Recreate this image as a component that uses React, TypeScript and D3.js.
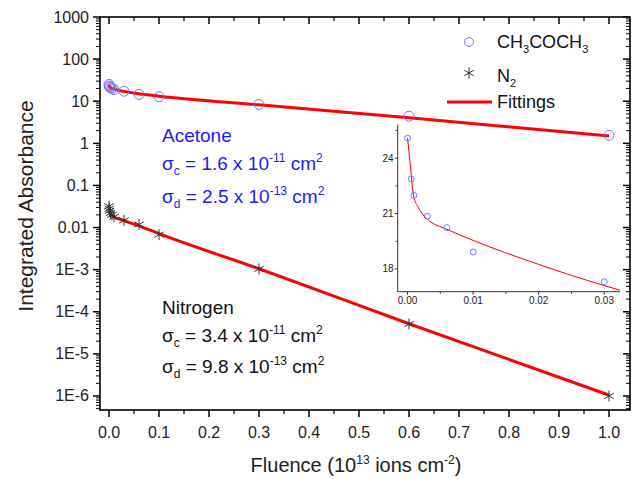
import React, { useEffect } from 'react';
import * as d3 from 'd3';

// measured points (fluence in 1e13 ions cm^-2)
const fluence = [0, 0.0006, 0.001, 0.003, 0.006, 0.01, 0.03, 0.06, 0.1, 0.3, 0.6, 1.0];
const acetone = [25.1, 22.9, 22.0, 20.9, 20.2, 18.9, 17.3, 14.5, 12.8, 8.4, 4.4, 1.55];
const nitrogen = [0.032, 0.028, 0.025, 0.022, 0.02, 0.018, 0.0148, 0.0118, 0.0068, 0.00104, 5.1e-5, 1.0e-6];

// fitted curves
const fitFluence = [0, 0.0005, 0.001, 0.002, 0.003, 0.006, 0.01, 0.02, 0.03, 0.06, 0.1, 0.3, 0.6, 1.0];
const acetoneFit = [25.1, 23.6, 22.2, 21.2, 20.7, 20.2, 19.45, 18.2, 17.1, 15.0, 13.2, 8.2, 4.06, 1.5];
const nitrogenFit = [0.033, 0.029, 0.026, 0.023, 0.021, 0.0195, 0.0178, 0.016, 0.0146, 0.011, 0.0072, 0.00105, 5.2e-5, 1.05e-6];

// inset (zoom on the first acetone points)
const insetFluence = [0, 0.00056, 0.00097, 0.003, 0.006, 0.01, 0.03];
const insetAcetone = [25.08, 22.88, 21.99, 20.86, 20.24, 18.92, 17.31];
const insetFitFluence = [0, 0.0004, 0.0009, 0.0017, 0.0024, 0.003, 0.006, 0.01, 0.02, 0.03, 0.0324];
const insetFit = [25.1, 23.7, 22.0, 21.3, 20.92, 20.7, 20.15, 19.55, 18.25, 17.1, 16.85];

const xTickValues = [0, 0.1, 0.2, 0.3, 0.4, 0.5, 0.6, 0.7, 0.8, 0.9, 1.0];
const xTickLabels = ['0.0', '0.1', '0.2', '0.3', '0.4', '0.5', '0.6', '0.7', '0.8', '0.9', '1.0'];
const yTickValues = [1e-6, 1e-5, 1e-4, 1e-3, 0.01, 0.1, 1, 10, 100, 1000];
const yTickLabels = ['1E-6', '1E-5', '1E-4', '1E-3', '0.01', '0.1', '1', '10', '100', '1000'];
const insetXTicks = [0, 0.01, 0.02, 0.03];
const insetXLabels = ['0.00', '0.01', '0.02', '0.03'];
const insetYTicks = [18, 21, 24];

const font = 'Liberation Sans, Arial, sans-serif';
const blue = '#1c1cf5';
const circleColor = '#7575ff';
const red = '#ff0000';

const Star = ({ cx, cy, r, color }: { cx: number; cy: number; r: number; color: string }) => {
  const c = Math.cos(Math.PI / 6) * r;
  const s = Math.sin(Math.PI / 6) * r;
  return (
    <path
      d={`M${cx},${cy - r}L${cx},${cy + r}M${cx - c},${cy - s}L${cx + c},${cy + s}M${cx - c},${cy + s}L${cx + c},${cy - s}`}
      stroke={color}
      strokeWidth={1}
      fill="none"
    />
  );
};

const Sigma = ({ x, y, sub, value, exp, color }: any) => (
  <text x={x} y={y} fontSize={19} fill={color} fontFamily={font}>
    σ
    <tspan dy={5} fontSize={12}>{sub}</tspan>
    <tspan dy={-5}>{` = ${value} x 10`}</tspan>
    <tspan dy={-8} fontSize={12}>{exp}</tspan>
    <tspan dy={8}>{'  cm'}</tspan>
    <tspan dy={-8} fontSize={12}>2</tspan>
  </text>
);

const App = () => {
  useEffect(() => {
    document.body.style.margin = '0';
  }, []);

  const x = d3.scaleLinear().domain([-0.018, 1.042]).range([100, 630]);
  const y = d3.scaleLog().domain([Math.pow(10, -6.333), 1000]).range([410, 17]);

  const minorY: number[] = [];
  for (let e = -7; e < 3; e++) {
    for (let m = 2; m <= 9; m++) {
      const v = m * Math.pow(10, e);
      if (v > y.domain()[0] && v < 1000) minorY.push(v);
    }
  }
  const minorX = d3.range(0.05, 1.05, 0.1);

  const line = d3
    .line<number>()
    .x((_, i) => x(fitFluence[i]))
    .curve(d3.curveMonotoneX);

  const xi = d3.scaleLinear().domain([-0.0015, 0.0324]).range([397.7, 620]);
  const yi = d3.scaleLinear().domain([16.77, 25.8]).range([291.7, 125]);
  const insetLine = d3
    .line<number>()
    .x((_, i) => xi(insetFitFluence[i]))
    .y((d) => yi(d))
    .curve(d3.curveMonotoneX);

  const [x0, x1] = x.range();
  const [y0, y1] = y.range();

  return (
    <svg width={641} height={479} style={{ display: 'block', background: '#fff' }} fontFamily={font}>
      {/* fit lines */}
      <path d={line.y((d) => y(d))(acetoneFit) || ''} fill="none" stroke={red} strokeWidth={3} />
      <path d={line.y((d) => y(d))(nitrogenFit) || ''} fill="none" stroke={red} strokeWidth={3} />

      {/* data */}
      {fluence.map((f, i) => (
        <circle key={'a' + i} cx={x(f)} cy={y(acetone[i])} r={5} fill="none" stroke={circleColor} strokeWidth={1} />
      ))}
      {fluence.map((f, i) => (
        <Star key={'n' + i} cx={x(f)} cy={y(nitrogen[i])} r={5.5} color="#333" />
      ))}

      {/* frame */}
      <rect x={x0} y={y1} width={x1 - x0} height={y0 - y1} fill="none" stroke="#000" strokeWidth={1.6} />

      {/* x ticks bottom (out) and top (in) */}
      {xTickValues.map((v, i) => (
        <g key={'xt' + i}>
          <line x1={x(v)} x2={x(v)} y1={y0} y2={y0 + 7} stroke="#000" strokeWidth={1.5} />
          <line x1={x(v)} x2={x(v)} y1={y1} y2={y1 + 7} stroke="#000" strokeWidth={1.5} />
          <text x={x(v)} y={438} fontSize={16} textAnchor="middle" fill="#222">
            {xTickLabels[i]}
          </text>
        </g>
      ))}
      {minorX.map((v, i) => (
        <g key={'xm' + i}>
          <line x1={x(v)} x2={x(v)} y1={y0} y2={y0 + 4} stroke="#000" strokeWidth={1.2} />
          <line x1={x(v)} x2={x(v)} y1={y1} y2={y1 + 4} stroke="#000" strokeWidth={1.2} />
        </g>
      ))}

      {/* y ticks left (out) and right (in) */}
      {yTickValues.map((v, i) => (
        <g key={'yt' + i}>
          <line x1={x0 - 7} x2={x0} y1={y(v)} y2={y(v)} stroke="#000" strokeWidth={1.5} />
          <line x1={x1 - 7} x2={x1} y1={y(v)} y2={y(v)} stroke="#000" strokeWidth={1.5} />
          <text x={89} y={y(v) + 5.5} fontSize={16} textAnchor="end" fill="#222">
            {yTickLabels[i]}
          </text>
        </g>
      ))}
      {minorY.map((v, i) => (
        <g key={'ym' + i}>
          <line x1={x0 - 4} x2={x0} y1={y(v)} y2={y(v)} stroke="#000" strokeWidth={1} />
          <line x1={x1 - 4} x2={x1} y1={y(v)} y2={y(v)} stroke="#000" strokeWidth={1} />
        </g>
      ))}

      {/* axis titles */}
      <text transform="translate(33,206) rotate(-90)" fontSize={21} textAnchor="middle" fill="#222">
        Integrated Absorbance
      </text>
      <text x={356} y={472} fontSize={20} textAnchor="middle" fill="#222">
        Fluence (10
        <tspan dy={-8} fontSize={12}>13</tspan>
        <tspan dy={8}> ions cm</tspan>
        <tspan dy={-8} fontSize={12}>-2</tspan>
        <tspan dy={8}>)</tspan>
      </text>

      {/* annotations */}
      <text x={162} y={142} fontSize={19} fill={blue}>Acetone</text>
      <Sigma x={162} y={170} sub="c" value="1.6" exp="-11" color={blue} />
      <Sigma x={162} y={203} sub="d" value="2.5" exp="-13" color={blue} />
      <text x={162} y={314} fontSize={19} fill="#111">Nitrogen</text>
      <Sigma x={162} y={342} sub="c" value="3.4" exp="-11" color="#111" />
      <Sigma x={162} y={373} sub="d" value="9.8" exp="-13" color="#111" />

      {/* legend */}
      <circle cx={469} cy={42} r={4.5} fill="none" stroke={circleColor} strokeWidth={1} />
      <text x={497} y={48} fontSize={18} fill="#111">
        CH<tspan dy={5} fontSize={11}>3</tspan>
        <tspan dy={-5}>COCH</tspan>
        <tspan dy={5} fontSize={11}>3</tspan>
      </text>
      <Star cx={469} cy={73} r={5.5} color="#333" />
      <text x={497} y={82} fontSize={18} fill="#111">
        N<tspan dy={5} fontSize={11}>2</tspan>
      </text>
      <line x1={447} x2={492} y1={102} y2={102} stroke={red} strokeWidth={3} />
      <text x={497} y={108} fontSize={18} fill="#111">Fittings</text>

      {/* inset */}
      <path d={insetLine(insetFit) || ''} fill="none" stroke={red} strokeWidth={1} />
      {insetFluence.map((f, i) => (
        <circle key={'i' + i} cx={xi(f)} cy={yi(insetAcetone[i])} r={3} fill="none" stroke={circleColor} strokeWidth={1} />
      ))}
      <line x1={xi.range()[0]} x2={xi.range()[0]} y1={yi.range()[1]} y2={yi.range()[0]} stroke="#333" strokeWidth={1} />
      <line x1={xi.range()[0]} x2={xi.range()[1]} y1={yi.range()[0]} y2={yi.range()[0]} stroke="#333" strokeWidth={1} />
      {insetXTicks.map((v, i) => (
        <g key={'ixt' + i}>
          <line x1={xi(v)} x2={xi(v)} y1={yi.range()[0]} y2={yi.range()[0] + 3} stroke="#333" />
          <text x={xi(v)} y={304} fontSize={10} textAnchor="middle" fill="#222">
            {insetXLabels[i]}
          </text>
        </g>
      ))}
      {[0.005, 0.015, 0.025].map((v) => (
        <line key={'ixm' + v} x1={xi(v)} x2={xi(v)} y1={yi.range()[0]} y2={yi.range()[0] + 2} stroke="#333" />
      ))}
      {insetYTicks.map((v) => (
        <g key={'iyt' + v}>
          <line x1={xi.range()[0] - 3} x2={xi.range()[0]} y1={yi(v)} y2={yi(v)} stroke="#333" />
          <text x={xi.range()[0] - 4} y={yi(v) + 3.5} fontSize={10} textAnchor="end" fill="#222">
            {v}
          </text>
        </g>
      ))}
      {[19.5, 22.5, 25.5].map((v) => (
        <line key={'iym' + v} x1={xi.range()[0] - 2} x2={xi.range()[0]} y1={yi(v)} y2={yi(v)} stroke="#333" />
      ))}
    </svg>
  );
};

export default App;
